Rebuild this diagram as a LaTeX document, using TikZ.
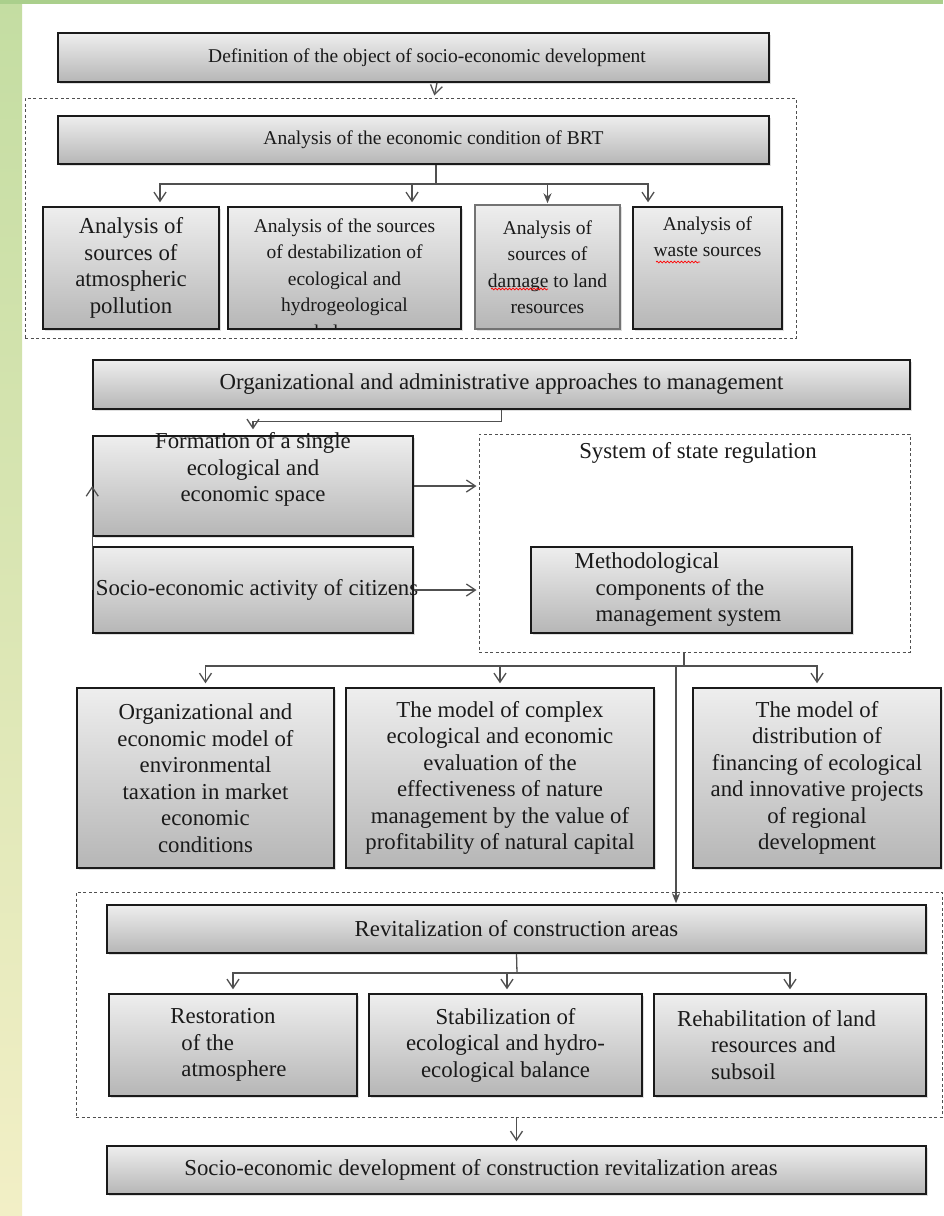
\documentclass[tikz,border=0pt]{standalone}
\usepackage{fontspec}
\setmainfont{Liberation Serif}
\usetikzlibrary{arrows.meta,shadows,calc,decorations.pathmorphing}
\definecolor{boxtop}{HTML}{EEEEEE}
\definecolor{boxbot}{HTML}{B6B6B6}
\definecolor{stripA}{HTML}{C4DDA2}
\definecolor{stripB}{HTML}{F2EFC6}
\definecolor{topband}{HTML}{AACF8C}
\definecolor{ink}{HTML}{1A1A1A}
\definecolor{conn}{HTML}{505050}
\newcommand\fsS{\fontsize{19.5}{26.5}\selectfont}
\newcommand\fsL{\fontsize{22.8}{26.5}\selectfont}
\begin{document}
\begin{tikzpicture}[x=1pt,y=-1pt,
  box/.style={draw=ink, line width=1.5pt, top color=boxtop, bottom color=boxbot,
    inner sep=0pt, text=ink, align=center,
    drop shadow={shadow xshift=1.5pt, shadow yshift=-2pt, opacity=0.25}},
  txt/.style={inner sep=0pt, text=ink, align=center},
  dashbox/.style={draw=conn, dash pattern=on 3pt off 2.5pt, line width=1pt, inner sep=0pt},
  cline/.style={draw=conn, line width=1.3pt},
  arr/.style={cline, -{Straight Barb[length=9pt,width=12pt]}, shorten >=4pt},
  arrF/.style={cline, -{Stealth[length=10pt,width=8pt]}, shorten >=1pt},
  squig/.style={draw=red, line width=0.7pt, decorate, decoration={snake, amplitude=0.9pt, segment length=3.5pt}}
]
\useasboundingbox (0,0) rectangle (943,1216);
\fill[white] (0,0) rectangle (943,1216);
\fill[top color=stripA, bottom color=stripB] (0,0) rectangle (22,1216);
\fill[topband] (0,0) rectangle (943,4);

% ---- dashed groups
\node[dashbox, minimum width=771pt, minimum height=240pt] (dash1) at (410.5,218) {};
\node[dashbox, minimum width=431pt, minimum height=218pt] (dash2) at (694.5,543) {};
\node[dashbox, minimum width=866pt, minimum height=225pt] (dash3) at (509,1004.5) {};

% ---- top section
\node[box, font=\fsS, minimum width=711pt, minimum height=49pt] (def) at (413.5,57.5)
  {\hspace*{27pt}Definition of the object of socio-economic development};
\node[box, font=\fsS, minimum width=711pt, minimum height=48pt] (brt) at (413.5,140)
  {\hspace*{40pt}Analysis of the economic condition of BRT};
\node[box, font=\fsL, minimum width=176pt, minimum height=122pt] (a1) at (131,268)
  {Analysis of\\sources of\\atmospheric\\pollution};
\node[box, minimum width=233pt, minimum height=122pt] (a2) at (344.5,268) {};
\begin{scope}
  \clip (a2.north west) rectangle (a2.south east);
  \node[txt, font=\fsS, anchor=north] (a2t) at ([yshift=-12pt]a2.north)
    {Analysis of the sources\\of destabilization of\\ecological and\\hydrogeological\\balance};
\end{scope}
\node[box, draw=black!55, font=\fsS, minimum width=145pt, minimum height=124pt] (a3) at (547.5,267)
  {Analysis of\\sources of\\damage to land\\resources};
\node[box, minimum width=149pt, minimum height=122pt] (a4) at (707.5,268) {};
\node[txt, font=\fsS, anchor=north] (a4t) at ([yshift=-10pt]a4.north) {Analysis of\\waste sources};
\draw[squig] (656,262) -- (700,262);
\draw[squig] (491,289) -- (548,289);

% ---- middle section
\node[box, font=\fsL, minimum width=817pt, minimum height=49pt] (org) at (501.5,384.5)
  {Organizational and administrative approaches to management};
\node[box, minimum width=320pt, minimum height=100pt] (form) at (253,486) {};
\node[txt, font=\fsL, anchor=north] (formt) at ([yshift=3pt]form.north)
  {Formation of a single\\ecological and\\economic space};
\node[box, font=\fsL, minimum width=320pt, minimum height=86pt] (socio) at (253,590)
  {\makebox[0pt]{\hspace*{8pt}Socio-economic activity of citizens}};
\node[txt, font=\fsL] (sysl) at (698,453) {System of state regulation};
\node[box, font=\fsL, align=left, minimum width=321pt, minimum height=86pt] (meth) at (691.5,590)
  {Methodological\\\hspace*{21pt}components of the\\\hspace*{21pt}management system\hspace*{27pt}};

\node[box, font=\fsL, minimum width=257pt, minimum height=180pt] (m1) at (205.5,778)
  {Organizational and\\economic model of\\environmental\\taxation in market\\economic\\conditions};
\node[box, font=\fsL, minimum width=308pt, minimum height=180pt] (m2) at (500,778)
  {The model of complex\\ecological and economic\\evaluation of the\\effectiveness of nature\\management by the value of\\profitability of natural capital};
\node[box, font=\fsL, minimum width=248pt, minimum height=180pt] (m3) at (817,778)
  {The model of\\distribution of\\financing of ecological\\and innovative projects\\of regional\\development};

% ---- bottom section
\node[box, font=\fsL, minimum width=819pt, minimum height=48pt] (revit) at (516.5,929)
  {Revitalization of construction areas};
\node[box, font=\fsL, align=left, minimum width=248pt, minimum height=102pt] (r1) at (233,1045)
  {Restoration\\\hspace*{11pt}of the\\\hspace*{11pt}atmosphere\hspace*{9pt}};
\node[box, font=\fsL, minimum width=273pt, minimum height=102pt] (r2) at (505.5,1045)
  {Stabilization of\\ecological and hydro-\\ecological balance};
\node[box, font=\fsL, align=left, minimum width=272pt, minimum height=102pt] (r3) at (790,1045)
  {Rehabilitation of land\hspace*{27pt}\\\hspace*{34pt}resources and\\\hspace*{34pt}subsoil};
\node[box, font=\fsL, minimum width=819pt, minimum height=48pt] (final) at (516.5,1170)
  {Socio-economic development of construction revitalization areas\hspace*{71pt}};

% ---- connectors
\draw[arr, shorten >=2pt] ([xshift=23.5pt]def.south) -- ([xshift=23.5pt]dash1.north);
\coordinate (j1) at (436,184);
\draw[cline] ([xshift=22.5pt]brt.south) -- (j1);
\draw[arr] (j1) -| ([xshift=29pt]a1.north);
\draw[arr] (j1) -| ([xshift=67.5pt]a2.north);
\draw[arrF] (j1) -| (a3.north);
\draw[arr] (j1) -| ([xshift=-59.5pt]a4.north);

\draw[arr, shorten >=6pt] (org.south) -- ++(0,12) -| (form.north);
\draw[arr, shorten >=0pt] (socio.west) -- (form.west);
\draw[arr, shorten >=2pt] (form.east) -- (form.east -| dash2.west);
\draw[arr, shorten >=2pt] (socio.east) -- (socio.east -| dash2.west);

\coordinate (j2) at (684,666);
\draw[cline] (j2 |- dash2.south) -- (j2);
\draw[arr] (j2) -| (m1.north);
\draw[arr] (j2) -| (m2.north);
\draw[arr] (j2) -| (m3.north);
\coordinate (j3) at (676,666);
\draw[arrF] (j3) -- (j3 |- revit.north);

\coordinate (j4) at (517,973);
\draw[cline] (revit.south) -- (j4);
\draw[arr] (j4) -| (r1.north);
\draw[arr] (j4) -| ([xshift=1.5pt]r2.north);
\draw[arr] (j4) -| (r3.north);
\draw[arr] (final.north |- dash3.south) -- (final.north);
\end{tikzpicture}
\end{document}
